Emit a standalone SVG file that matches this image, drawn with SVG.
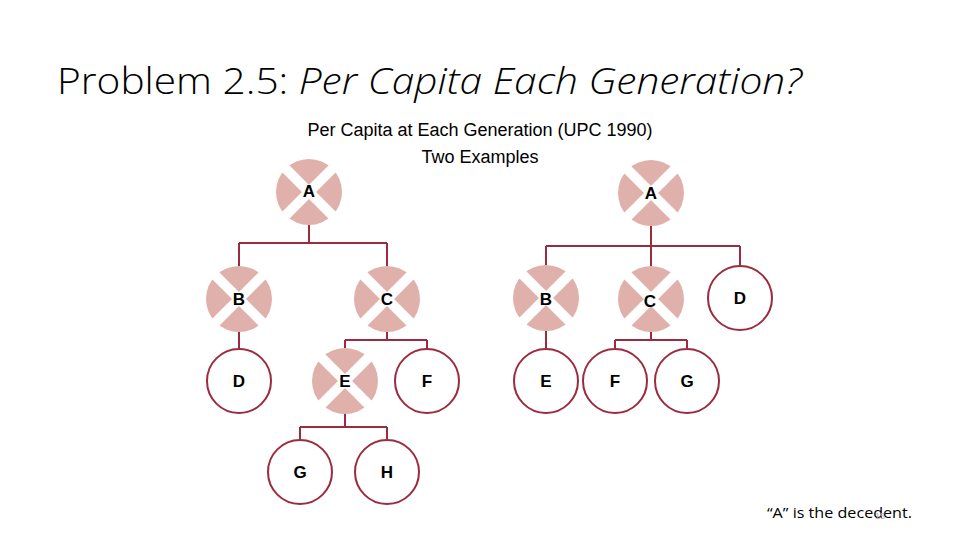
<svg xmlns="http://www.w3.org/2000/svg" width="960" height="540" viewBox="0 0 960 540">
<style>
.bg{fill:#ffffff}
.title{font-family:"Open Sans","Liberation Sans",sans-serif;font-size:37px;font-weight:300;fill:#000}
.sub{font-family:"Liberation Sans",Arial,sans-serif;font-size:18px;fill:#000}
.note{font-family:"Open Sans","Liberation Sans",sans-serif;font-size:15px;fill:#000}
.pg{font-family:"Liberation Sans",sans-serif;font-size:9px;fill:#b0b0b0}
.conn{fill:none;stroke:#9c2b40;stroke-width:2}
.live{fill:#ffffff;stroke:#9c2b40;stroke-width:2}
.dead{fill:#e0b0aa}
.x{stroke:#ffffff;stroke-width:10}
.lbl{font-family:"Liberation Sans",Arial,sans-serif;font-size:17px;font-weight:bold;fill:#000;text-anchor:middle}
</style>
<defs>
<g id="cross">
<circle class="dead" r="33"/>
<line class="x" x1="-26" y1="-26" x2="26" y2="26"/>
<line class="x" x1="26" y1="-26" x2="-26" y2="26"/>
</g>
</defs>
<rect class="bg" width="960" height="540"/>
<text class="title" x="57" y="94" textLength="745" lengthAdjust="spacingAndGlyphs">Problem 2.5: <tspan font-style="italic">Per Capita Each Generation?</tspan></text>
<text class="sub" x="480" y="136" text-anchor="middle">Per Capita at Each Generation (UPC 1990)</text>
<text class="sub" x="480" y="163" text-anchor="middle">Two Examples</text>

<g id="connectors">
<path class="conn" d="M309 225V243M239 243H387M239 243V266M387 243V266"/>
<path class="conn" d="M239 332V348"/>
<path class="conn" d="M387 332V340M345 340H427M345 340V348M427 340V348"/>
<path class="conn" d="M345 414V427M300 427H387M300 427V439M387 427V439"/>
<path class="conn" d="M651 226V246M546 246H740M546 246V265M651 246V266M740 246V265"/>
<path class="conn" d="M546 331V348"/>
<path class="conn" d="M651 332V340M615 340H687M615 340V348M687 340V348"/>
</g>

<g id="L-A"><use href="#cross" x="309" y="192"/><text class="lbl" x="309" y="197">A</text></g>
<g id="L-B"><use href="#cross" x="239" y="299"/><text class="lbl" x="239" y="305">B</text></g>
<g id="L-C"><use href="#cross" x="387" y="299"/><text class="lbl" x="387" y="305">C</text></g>
<g id="L-D"><circle class="live" cx="239" cy="381" r="32"/><text class="lbl" x="239" y="387">D</text></g>
<g id="L-E"><use href="#cross" x="345" y="381"/><text class="lbl" x="345" y="387">E</text></g>
<g id="L-F"><circle class="live" cx="427" cy="381" r="32"/><text class="lbl" x="427" y="387">F</text></g>
<g id="L-G"><circle class="live" cx="300" cy="472" r="32"/><text class="lbl" x="300" y="478">G</text></g>
<g id="L-H"><circle class="live" cx="387" cy="472" r="32"/><text class="lbl" x="387" y="478">H</text></g>

<g id="R-A"><use href="#cross" x="651" y="193"/><text class="lbl" x="651" y="199">A</text></g>
<g id="R-B"><use href="#cross" x="546" y="298"/><text class="lbl" x="546" y="305">B</text></g>
<g id="R-C"><use href="#cross" x="651" y="299"/><text class="lbl" x="650" y="307">C</text></g>
<g id="R-D"><circle class="live" cx="740" cy="298" r="32"/><text class="lbl" x="740" y="304">D</text></g>
<g id="R-E"><circle class="live" cx="546" cy="381" r="32"/><text class="lbl" x="546" y="387">E</text></g>
<g id="R-F"><circle class="live" cx="615" cy="381" r="32"/><text class="lbl" x="615" y="387">F</text></g>
<g id="R-G"><circle class="live" cx="687" cy="381" r="32"/><text class="lbl" x="687" y="387">G</text></g>

<text class="note" x="767" y="518" textLength="145" lengthAdjust="spacingAndGlyphs">“A” is the decedent.</text>
<text class="pg" x="875" y="519">15</text>
</svg>
